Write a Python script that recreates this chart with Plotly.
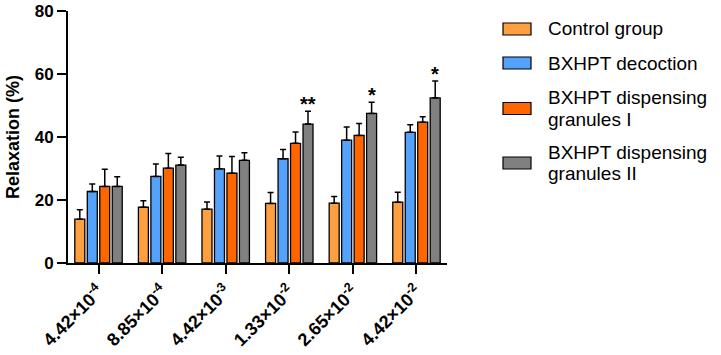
import plotly.graph_objects as go

categories = ["4.42e-4", "8.85e-4", "4.42e-3", "1.33e-2", "2.65e-2", "4.42e-2"]
tick_labels = ["4.42×10<sup>-4</sup>", "8.85×10<sup>-4</sup>", "4.42×10<sup>-3</sup>",
               "1.33×10<sup>-2</sup>", "2.65×10<sup>-2</sup>", "4.42×10<sup>-2</sup>"]

series_names = ["Control group", "BXHPT decoction",
                "BXHPT dispensing<br>granules I", "BXHPT dispensing<br>granules II"]
series_colors = ["#FFA040", "#55A2FA", "#FF6600", "#808080"]

control_vals = [13.9, 17.7, 17.1, 18.9, 19.0, 19.3]
decoction_vals = [22.7, 27.5, 29.9, 33.1, 39.0, 41.5]
granules1_vals = [24.3, 30.1, 28.5, 38.0, 40.5, 44.7]
granules2_vals = [24.3, 31.1, 32.6, 44.1, 47.5, 52.4]

control_err = [3.0, 2.1, 2.3, 3.5, 2.1, 3.2]
decoction_err = [2.4, 3.9, 4.1, 2.9, 4.2, 2.4]
granules1_err = [5.5, 4.7, 5.3, 3.6, 3.8, 1.7]
granules2_err = [3.1, 2.5, 2.4, 4.1, 3.5, 5.4]

significance = ["", "", "", "**", "*", "*"]

values = [control_vals, decoction_vals, granules1_vals, granules2_vals]
errors = [control_err, decoction_err, granules1_err, granules2_err]

BARGAP = 0.215
FONT = "Arial, Liberation Sans, sans-serif"

fig = go.Figure()
idx = list(range(len(categories)))
for name, color, vals, err in zip(series_names, series_colors, values, errors):
    fig.add_trace(go.Bar(
        x=idx, y=vals, name=name,
        marker=dict(color=color, line=dict(color="black", width=1.3)),
        error_y=dict(type="data", array=err, arrayminus=[0] * len(err), symmetric=False,
                     color="black", thickness=1.5, width=3),
        showlegend=False,
    ))

# significance marks above the last series
n = len(series_names)
off = 1.5 * (1 - BARGAP) / n
for i, s in enumerate(significance):
    if s:
        fig.add_annotation(x=i + off, y=granules2_vals[i] + granules2_err[i], xref="x", yref="y",
                           text="<b>" + s + "</b>", showarrow=False, yanchor="bottom",
                           yshift=-6, font=dict(family=FONT, size=20, color="black"))

# plot area in pixels
plot_l, plot_r, plot_t, plot_b = 68, 447, 11, 263
def px_x(p):
    return (p - plot_l) / (plot_r - plot_l)
def px_y(p):
    return (plot_b - p) / (plot_b - plot_t)

# manual legend
legend_centers = [29, 63, 108.5, 163]
line_gap = 21.5
for name, color, cy in zip(series_names, series_colors, legend_centers):
    fig.add_shape(type="rect", xref="paper", yref="paper",
                  x0=px_x(503), x1=px_x(531), y0=px_y(cy + 6), y1=px_y(cy - 6),
                  fillcolor=color, line=dict(color="black", width=1.2))
    lines = name.split("<br>")
    for k, line in enumerate(lines):
        ty = cy + (k - (len(lines) - 1) / 2) * line_gap
        fig.add_annotation(xref="paper", yref="paper", x=px_x(546), y=px_y(ty),
                           xanchor="left", yanchor="middle", align="left", showarrow=False,
                           text=line, font=dict(family=FONT, size=19, color="black"))

W, H = 721, 355
fig.update_layout(
    width=W, height=H,
    margin=dict(l=plot_l, r=W - plot_r, t=plot_t, b=H - plot_b, autoexpand=False),
    paper_bgcolor="white", plot_bgcolor="white",
    barmode="group", bargap=BARGAP, bargroupgap=0.2,
    font=dict(family=FONT, color="black"),
)
fig.update_xaxes(
    range=[-0.48, 5.48], tickmode="array", tickvals=idx, ticktext=tick_labels,
    tickangle=-45, ticks="outside", ticklen=9, tickwidth=2, tickcolor="black",
    showline=True, linecolor="black", linewidth=2, showgrid=False, zeroline=False,
    automargin=False,
    tickfont=dict(family=FONT, size=18, color="black", weight="bold"),
)
fig.update_yaxes(
    range=[0, 80], dtick=20, ticks="outside", ticklen=9, tickwidth=2, tickcolor="black",
    showline=True, linecolor="black", linewidth=2, showgrid=False, zeroline=False,
    automargin=False, ticklabeloverflow="allow",
    tickfont=dict(family=FONT, size=17, color="black", weight="bold"),
    title=dict(text="Relaxation (%)", standoff=10,
               font=dict(family=FONT, size=18, color="black", weight="bold")),
)

fig.write_html("out.html", config={"displayModeBar": False},
               post_script="document.body.style.margin='0';")
